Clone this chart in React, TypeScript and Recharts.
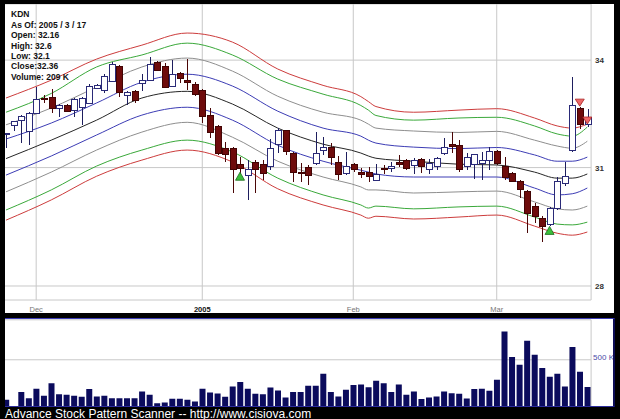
import React from 'react';
import { ComposedChart, Bar, Line, XAxis, YAxis, CartesianGrid } from 'recharts';

const FONT = '"Liberation Sans", Arial, sans-serif';

const dates = [
  '11/24', '11/26', '11/29', '11/30',
  '12/01', '12/02', '12/03', '12/06', '12/07', '12/08', '12/09', '12/10', '12/13', '12/14', '12/15', '12/16', '12/17', '12/20', '12/21', '12/22', '12/23', '12/27', '12/28', '12/29', '12/30', '12/31',
  '01/03', '01/04', '01/05', '01/06', '01/07', '01/10', '01/11', '01/12', '01/13', '01/14', '01/18', '01/19', '01/20', '01/21', '01/24', '01/25', '01/26', '01/27', '01/28', '01/31',
  '02/01', '02/02', '02/03', '02/04', '02/07', '02/08', '02/09', '02/10', '02/11', '02/14', '02/15', '02/16', '02/17', '02/18', '02/22', '02/23', '02/24', '02/25', '02/28',
  '03/01', '03/02', '03/03', '03/04', '03/07', '03/08', '03/09', '03/10', '03/11', '03/14', '03/15', '03/16', '03/17',
];

const opens = [
  31.89, 32.13, 32.29, 31.99, 32.48, 32.91, 32.92, 32.62, 32.71, 32.57,
  32.63, 32.76, 33.18, 33.13, 33.37, 33.81, 32.99, 33.10, 33.32, 33.42,
  33.94, 33.81, 33.25, 33.62, 33.42, 33.30, 33.13, 32.43, 32.11, 31.52,
  31.52, 31.09, 30.80, 31.14, 31.07, 31.02, 31.63, 32.00, 31.38, 30.88,
  31.01, 31.11, 31.47, 31.55, 31.13, 30.83, 31.07, 30.86, 30.86, 30.67,
  30.97, 30.98, 31.14, 31.18, 31.05, 31.22, 30.95, 31.03, 31.38, 31.61,
  31.60, 31.04, 31.07, 31.11, 31.19, 31.42, 31.02, 30.84, 30.63, 30.36,
  29.98, 29.67, 29.51, 29.93, 30.58, 31.47, 32.62, 32.16,
];
const highs = [
  31.94, 32.28, 32.43, 32.51, 33.23, 32.99, 33.18, 32.74, 32.74, 32.91,
  32.93, 33.30, 33.30, 33.60, 33.94, 33.86, 33.10, 33.13, 33.60, 34.09,
  33.97, 33.91, 34.00, 33.65, 34.02, 33.37, 33.16, 32.63, 32.16, 31.70,
  31.55, 31.28, 31.20, 31.20, 31.20, 31.77, 32.08, 32.02, 31.42, 31.12,
  31.07, 31.97, 31.83, 31.66, 31.31, 31.42, 31.12, 31.00, 31.01, 31.10,
  31.07, 31.15, 31.34, 31.22, 31.25, 31.25, 31.22, 31.29, 31.79, 31.97,
  31.74, 31.39, 31.36, 31.42, 31.55, 31.47, 31.28, 30.88, 30.67, 30.41,
  30.07, 29.73, 29.97, 30.76, 31.15, 33.52, 32.66, 32.60,
];
const lows = [
  31.52, 31.99, 31.65, 31.61, 32.47, 32.77, 32.48, 32.38, 32.51, 32.38,
  32.16, 32.74, 33.16, 33.04, 33.36, 32.93, 32.71, 32.76, 33.10, 33.41,
  33.68, 33.19, 33.22, 33.34, 33.13, 32.96, 32.21, 31.80, 31.34, 31.15,
  30.32, 30.83, 30.15, 30.32, 30.67, 30.93, 31.39, 31.34, 30.63, 30.63,
  30.54, 31.07, 31.34, 31.07, 30.67, 30.81, 30.89, 30.72, 30.63, 30.66,
  30.84, 30.89, 31.02, 30.93, 30.84, 30.85, 30.84, 30.93, 31.34, 31.38,
  30.89, 30.93, 30.71, 30.67, 30.93, 31.07, 30.67, 30.62, 30.19, 29.30,
  29.56, 29.09, 29.48, 29.90, 30.51, 31.42, 32.05, 32.10,
];
const closes = [
  31.91, 32.24, 32.40, 32.48, 32.87, 32.89, 32.62, 32.69, 32.54, 32.87,
  32.90, 33.23, 33.27, 33.52, 33.87, 33.08, 33.08, 32.85, 33.42, 33.86,
  33.71, 33.22, 33.59, 33.47, 33.34, 33.02, 32.38, 31.94, 31.38, 31.34,
  30.95, 30.98, 30.95, 30.95, 30.84, 31.52, 32.00, 31.42, 30.86, 30.83,
  30.80, 31.38, 31.53, 31.28, 30.81, 31.03, 30.95, 30.81, 30.77, 30.81,
  30.95, 31.02, 31.08, 30.98, 31.20, 31.02, 31.11, 31.25, 31.54, 31.57,
  30.94, 31.28, 31.34, 31.20, 31.42, 31.11, 30.73, 30.63, 30.41, 29.80,
  29.72, 29.46, 29.93, 30.63, 30.76, 32.71, 32.16, 32.36,
];
// volume in thousands of shares
const volumes = [
  71, 5, 154, 89, 189, 114, 250, 132, 125, 114,
  104, 186, 107, 114, 89, 89, 89, 89, 161, 125,
  36, 43, 82, 82, 71, 54, 189, 150, 139, 104,
  214, 261, 189, 136, 132, 204, 171, 96, 154, 154,
  221, 221, 350, 154, 107, 179, 229, 236, 207, 275,
  250, 154, 236, 125, 161, 79, 96, 107, 161, 143,
  136, 86, 186, 189, 168, 286, 804, 529, 446, 704,
  554, 411, 318, 350, 214, 636, 371, 209,
];

// band readings at these slot indexes
const bandSlots = [0, 6, 12, 18, 24, 30, 36, 42, 47, 48, 49, 54, 60, 65, 70, 73, 75, 77];
const upperRed = [32.91, 33.42, 34.03, 34.44, 34.80, 34.53, 33.74, 33.27, 32.95, 32.81, 32.67, 32.51, 32.57, 32.61, 32.35, 32.13, 32.07, 32.18];
const upperGreen = [32.51, 33.04, 33.80, 34.15, 34.50, 34.15, 33.45, 33.02, 32.70, 32.57, 32.42, 32.29, 32.35, 32.37, 32.13, 31.91, 31.85, 32.10];
const upperGray = [32.16, 32.63, 33.22, 33.80, 34.06, 33.68, 32.96, 32.51, 32.29, 32.18, 32.07, 31.99, 31.95, 31.98, 31.74, 31.58, 31.52, 31.71];
const upperBlue = [31.77, 32.21, 32.77, 33.36, 33.59, 33.25, 32.54, 32.07, 31.85, 31.74, 31.66, 31.55, 31.51, 31.54, 31.34, 31.17, 31.17, 31.28];
const middle = [31.24, 31.74, 32.29, 32.91, 33.10, 32.74, 32.07, 31.63, 31.39, 31.31, 31.25, 31.17, 31.09, 31.07, 30.88, 30.72, 30.72, 30.83];
const lowerBlue = [30.80, 31.31, 31.88, 32.43, 32.65, 32.29, 31.60, 31.17, 30.93, 30.88, 30.83, 30.75, 30.75, 30.75, 30.46, 30.28, 30.31, 30.46];
const lowerGray = [30.36, 30.88, 31.47, 31.96, 32.23, 31.82, 31.17, 30.75, 30.49, 30.41, 30.41, 30.33, 30.36, 30.38, 30.10, 29.92, 29.89, 29.99];
const lowerGreen = [29.89, 30.41, 31.04, 31.47, 31.74, 31.42, 30.72, 30.28, 30.02, 29.94, 29.99, 29.92, 29.97, 29.99, 29.71, 29.53, 29.51, 29.58];
const lowerRed = [29.63, 30.15, 30.77, 31.20, 31.47, 31.15, 30.44, 30.02, 29.76, 29.68, 29.73, 29.66, 29.71, 29.76, 29.48, 29.30, 29.25, 29.33];

const buySlots = [31, 72];
const buyPrices = [30.77, 29.37];
const sellSlots = [76, 77];
const sellPrices = [32.78, 32.28];

const monthTicks = ['12/01', '01/03', '02/01', '03/01'];
const monthLabels = ['Dec', '2005', 'Feb', 'Mar'];
const priceTicks = [28, 31, 34];
const volumeTicks = [500];
const volumeTickLabels = ['500 K'];

const infoLines = ['KDN', 'As Of: 2005 / 3 / 17', 'Open: 32.16', 'High: 32.6', 'Low: 32.1', 'Close:32.36', 'Volume: 209 K'];
const footer = 'Advance Stock Pattern Scanner -- http://www.cisiova.com';

const bandSeries = [
  { key: 'upperRed', values: upperRed },
  { key: 'upperGreen', values: upperGreen },
  { key: 'upperGray', values: upperGray },
  { key: 'upperBlue', values: upperBlue },
  { key: 'middle', values: middle },
  { key: 'lowerBlue', values: lowerBlue },
  { key: 'lowerGray', values: lowerGray },
  { key: 'lowerGreen', values: lowerGreen },
  { key: 'lowerRed', values: lowerRed },
];
const bandColors: Record<string, string> = {
  upperRed: '#cc3c3c', lowerRed: '#cc3c3c',
  upperGreen: '#3aa83a', lowerGreen: '#3aa83a',
  upperGray: '#8e8e8e', lowerGray: '#8e8e8e',
  upperBlue: '#3c3cb4', lowerBlue: '#3c3cb4',
  middle: '#262626',
};

const rows: any[] = dates.map((date, i) => ({
  date,
  open: opens[i],
  high: highs[i],
  low: lows[i],
  close: closes[i],
  volume: volumes[i],
}));
bandSeries.forEach(({ key, values }) => {
  bandSlots.forEach((slot, j) => {
    rows[slot][key] = values[j];
  });
});
buySlots.forEach((s, j) => { rows[s].buy = buyPrices[j]; });
sellSlots.forEach((s, j) => { rows[s].sell = sellPrices[j]; });

const candleRange = (d: any) => [d.low, d.high];

const renderCandle = (props: any) => {
  const { x, y, width, height, payload, index } = props;
  if (x == null || y == null || !payload) return <g key={`c${index}`} />;
  const top = Math.min(y, y + height);
  const bot = Math.max(y, y + height);
  const lh = Math.log(payload.high);
  const ll = Math.log(payload.low);
  const span = lh - ll;
  const py = (p: number) => (span === 0 ? top : top + ((bot - top) * (lh - Math.log(p))) / span);
  const c = Math.round(x + width / 2);
  const yo = py(payload.open);
  const yc = py(payload.close);
  const up = payload.close >= payload.open;
  const bTop = Math.min(yo, yc);
  const bH = Math.max(1, Math.abs(yo - yc));
  const wick = up ? '#1e1e5e' : '#4a0606';
  return (
    <g key={`c${index}`} shapeRendering="crispEdges">
      <line x1={c + 0.5} x2={c + 0.5} y1={top} y2={bot} stroke={wick} strokeWidth={1} />
      {up ? (
        <rect x={c - 2.5} y={bTop} width={6} height={bH} fill="#ffffff" stroke="#2a2a78" strokeWidth={1} />
      ) : (
        <rect x={c - 2.5} y={bTop} width={6} height={bH} fill="#6e0b0b" stroke="#420404" strokeWidth={1} />
      )}
    </g>
  );
};

const renderBuy = (p: any) => {
  const { cx, cy, index, payload } = p;
  if (cx == null || cy == null || !payload || payload.buy == null) return <g key={`b${index}`} />;
  return (
    <polygon
      key={`b${index}`}
      points={`${cx - 4.5},${cy + 4} ${cx + 4.5},${cy + 4} ${cx},${cy - 4}`}
      fill="#3cbf3c"
      stroke="#1b6b1b"
      strokeWidth={0.8}
    />
  );
};

const renderSell = (p: any) => {
  const { cx, cy, index, payload } = p;
  if (cx == null || cy == null || !payload || payload.sell == null) return <g key={`s${index}`} />;
  return (
    <polygon
      key={`s${index}`}
      points={`${cx - 4.5},${cy - 3.5} ${cx + 4.5},${cy - 3.5} ${cx},${cy + 3.5}`}
      fill="#ee6868"
      stroke="#a82020"
      strokeWidth={0.8}
    />
  );
};

const renderDateTick = (p: any) => {
  const i = monthTicks.indexOf(p.payload.value);
  const label = monthLabels[i] ?? '';
  const isYear = /^\d{4}$/.test(label);
  return (
    <text
      x={p.x}
      y={p.y + 11.5}
      textAnchor="middle"
      fontSize={7.5}
      fontFamily={FONT}
      fontWeight={isYear ? 'bold' : 'normal'}
      fill={isYear ? '#111' : '#777'}
    >
      {label}
    </text>
  );
};

const renderPriceTick = (p: any) => (
  <text x={p.x} y={p.y + 3} fontSize={8} fontWeight="bold" fontFamily={FONT} fill="#333" textAnchor="start">
    {p.payload.value}
  </text>
);

const renderVolumeTick = (p: any) => {
  const i = volumeTicks.indexOf(p.payload.value);
  return (
    <text x={p.x} y={p.y} fontSize={8} fontFamily={FONT} fill="#4a4aa8" textAnchor="start">
      {volumeTickLabels[i] ?? ''}
    </text>
  );
};

export default function App() {
  return (
    <div style={{ position: 'relative', width: 620, height: 419, background: '#000', overflow: 'hidden', fontFamily: FONT }}>
      <style>{'body{margin:0;background:#000;}'}</style>

      {/* price panel */}
      <div style={{ position: 'absolute', left: 5, top: 4, width: 609, height: 309, background: '#fff', overflow: 'hidden' }}>
        <div style={{ position: 'absolute', left: -5, top: -4 }}>
          <ComposedChart width={620} height={313} data={rows} margin={{ top: 4, right: 0, bottom: 0, left: 2.2 }}>
            <CartesianGrid stroke="#c8c8c8" strokeWidth={1} />
            <XAxis
              dataKey="date"
              ticks={monthTicks}
              interval={0}
              tickLine={false}
              axisLine={false}
              tickSize={0}
              tickMargin={0}
              height={13}
              tick={renderDateTick}
            />
            <YAxis
              orientation="right"
              scale="log"
              type="number"
              domain={[27.665, 35.68]}
              allowDataOverflow
              ticks={priceTicks}
              width={28.9}
              tickLine={false}
              axisLine={false}
              tickSize={0}
              tickMargin={4}
              tick={renderPriceTick}
            />
            {bandSeries.map(({ key }) => (
              <Line
                key={key}
                dataKey={key}
                type="monotone"
                stroke={bandColors[key]}
                strokeWidth={1}
                dot={false}
                activeDot={false}
                connectNulls
                isAnimationActive={false}
              />
            ))}
            <Bar dataKey={candleRange} shape={renderCandle} barSize={6} isAnimationActive={false} zIndex={450} />
            <Line dataKey="buy" stroke="none" dot={renderBuy} activeDot={false} isAnimationActive={false} zIndex={470} />
            <Line dataKey="sell" stroke="none" dot={renderSell} activeDot={false} isAnimationActive={false} zIndex={470} />
          </ComposedChart>
        </div>
      </div>

      {/* volume panel */}
      <div
        style={{
          position: 'absolute',
          left: 5,
          top: 318,
          width: 610,
          height: 89,
          background: '#fff',
          borderTop: '1px solid #3c3cb8',
          borderBottom: '1px solid #2c2c9c',
          borderRight: '2px solid #0d0d55',
          boxSizing: 'border-box',
          overflow: 'hidden',
        }}
      >
        <div style={{ position: 'absolute', left: -5, top: -6 }}>
          <ComposedChart width={620} height={94} data={rows} margin={{ top: 6.8, right: 0, bottom: 0.5, left: 2.2 }}>
            <CartesianGrid stroke="#c8c8c8" strokeWidth={1} />
            <XAxis dataKey="date" ticks={monthTicks} interval={0} tick={false} tickLine={false} axisLine={false} height={0} />
            <YAxis
              orientation="right"
              type="number"
              domain={[0, 928]}
              allowDataOverflow
              ticks={volumeTicks}
              width={28.9}
              tickLine={false}
              axisLine={false}
              tickSize={0}
              tickMargin={2}
              tick={renderVolumeTick}
            />
            <Bar dataKey="volume" fill="#0b0b5c" barSize={6} isAnimationActive={false} />
          </ComposedChart>
        </div>
      </div>

      {/* overlay texts */}
      <svg width={620} height={419} style={{ position: 'absolute', left: 0, top: 0, pointerEvents: 'none' }}>
        {infoLines.map((t, i) => (
          <text key={i} x={11} y={17.3 + i * 10.4} fontSize={8.5} fontWeight="bold" fontFamily={FONT} fill="#111">
            {t}
          </text>
        ))}
        <text x={5} y={417.5} fontSize={12} fontFamily={FONT} fill="#ffffff">
          {footer}
        </text>
      </svg>
    </div>
  );
}
